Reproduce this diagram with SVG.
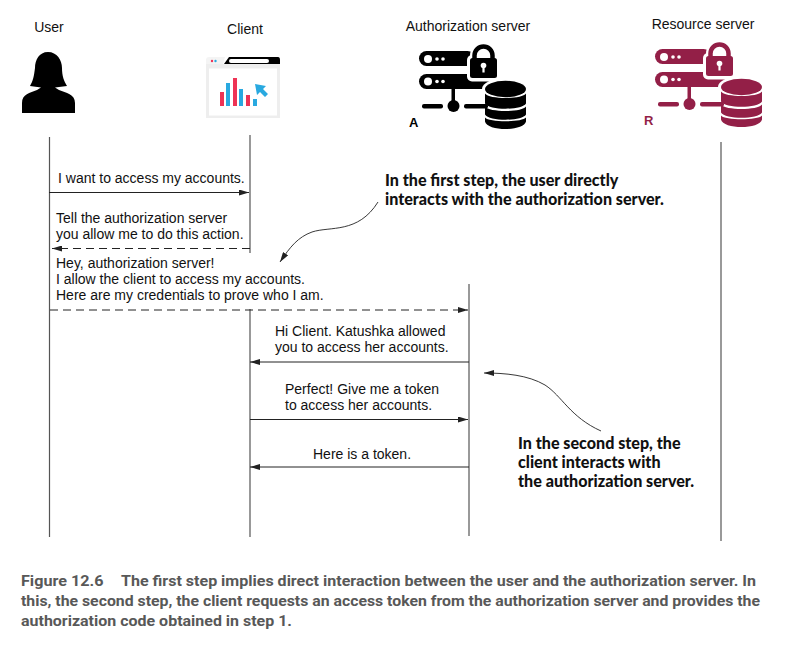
<svg xmlns="http://www.w3.org/2000/svg" width="791" height="645" viewBox="0 0 791 645">
<style>
text{font-family:"Liberation Sans",Arial,sans-serif;font-size:14px;fill:#111}
.note{font-family:Lato,"Noto Sans",sans-serif;font-weight:900;font-size:16.1px;fill:#111}
.cap{font-family:Roboto,"Liberation Sans",sans-serif;font-weight:700;font-size:14.5px;fill:#585858}
.ll{stroke:#555;stroke-width:1.2;fill:none}
.msg{stroke:#222;stroke-width:1;fill:none;marker-end:url(#ah)}
.dash{stroke-dasharray:8 5}
.curve{stroke:#222;stroke-width:.9;fill:none;marker-end:url(#ah)}
</style>
<defs>
<marker id="ah" markerUnits="userSpaceOnUse" markerWidth="11" markerHeight="6" refX="10" refY="3" orient="auto"><path d="M0 0L10 3L0 6z" fill="#222"/></marker>
<g id="srv">
<rect x="419" y="51" width="56" height="15" rx="7.500"/>
<rect x="419" y="74" width="70" height="15" rx="7.500"/>
<g fill="#fff"><circle cx="428" cy="59" r="4"/><circle cx="437" cy="59" r="1.800"/><circle cx="443" cy="59" r="1.800"/><circle cx="428" cy="81.500" r="4"/><circle cx="437" cy="81.500" r="1.800"/><circle cx="443" cy="81.500" r="1.800"/></g>
<rect x="451.500" y="89" width="3.500" height="17"/>
<circle cx="453.500" cy="106" r="6"/>
<rect x="422" y="104" width="21" height="4.500" rx="2"/>
<rect x="464" y="104" width="24" height="4.500" rx="2"/>
<rect x="467" y="55" width="33" height="26.500" rx="5" fill="#fff"/>
<path d="M474.500 60V55.500a9 9 0 0 1 18 0V60" fill="none" stroke="#fff" stroke-width="9"/>
<path d="M474.500 60V55.500a9 9 0 0 1 18 0V60" fill="none" stroke="currentColor" stroke-width="4.500"/>
<rect x="470" y="58" width="27" height="20" rx="2.500"/>
<circle cx="483.500" cy="65.500" r="2.800" fill="#fff"/><rect x="482.400" y="65.500" width="2.200" height="7" fill="#fff"/>
<ellipse cx="505.500" cy="89" rx="23.500" ry="11" fill="#fff"/>
<ellipse cx="505.500" cy="89" rx="20.500" ry="8.300"/>
<path d="M485 93.500c4 6 37 6 41 0v10c-4 7-37 7-41 0z"/>
<path d="M485 106.500c4 6 37 6 41 0v8c-4 7-37 7-41 0z"/>
<path d="M485 117.500c4 5 37 5 41 0v4c-2 10-39 10-41 0z"/>
</g>
</defs>
<rect width="791" height="645" fill="#fff"/>
<g id="connectors">
<path class="ll" d="M49.500 137V537"/>
<path class="ll" d="M250 135V253M250 309V537"/>
<path class="ll" d="M469 284V536"/>
<path class="ll" d="M721 142V541"/>
<path class="msg" d="M49 192.500H249"/>
<path class="msg dash" d="M250 248.500H52"/>
<path class="msg dash" d="M50 310H468"/>
<path class="msg" d="M469 362H250"/>
<path class="msg" d="M250 419.500H468"/>
<path class="msg" d="M469 467H250"/>
<path class="curve" d="M378 202C358 234 330 226 312 232C298 237 290 247 280 262"/>
<path class="curve" d="M601 431C570 417 562 396 545 385C528 375 505 373 484 373"/>
</g>
<g id="user"><text x="49" y="32" text-anchor="middle">User</text>
<path d="M48 52C39 52 35 60 35 68C34 76 33 81 30 86L41 87.500L37 90C30 93 22 94 22 103V113H75V103C75 94 66 93 59 90L55 87.500L67 86C64 81 62 76 62 68C62 60 57 52 48 52Z"/></g>
<g id="client"><text x="245" y="34" text-anchor="middle">Client</text>
<rect x="206" y="64" width="74" height="54" fill="#eee"/>
<rect x="209" y="68.500" width="68" height="47" fill="#fff"/>
<path d="M206 64V60Q206 57 209 57H225L223 64Z" fill="#f4f4f4"/>
<path d="M224 64L229 57H278Q280 57 280 60V64Z"/>
<rect x="229" y="59" width="40" height="4" rx="2" fill="#fff"/>
<circle cx="212" cy="61" r="1.200" fill="#ee3355"/><circle cx="215.500" cy="61" r="1.200" fill="#29a9e0"/>
<g fill="#ee3355"><rect x="220" y="92" width="4" height="14"/><rect x="233" y="78" width="4" height="28"/><rect x="246" y="95" width="4" height="11"/></g>
<g fill="#29a9e0"><rect x="226" y="83" width="4" height="23"/><rect x="239" y="89" width="4" height="17"/><rect x="253" y="99" width="4" height="7"/>
<path d="M255 84L266 86L263 89L268 94L265 97L260 92L257 95Z"/></g></g>
<g id="authorization-server" color="#000"><text x="468" y="31" text-anchor="middle">Authorization server</text>
<use href="#srv" fill="#000"/>
<text x="409" y="127" style="font-weight:700;font-size:13px;fill:#000">A</text></g>
<g id="resource-server" color="#931f47"><text x="703" y="29" text-anchor="middle">Resource server</text>
<use href="#srv" x="236" y="-2" fill="#931f47"/>
<text x="644" y="125" style="font-weight:700;font-size:13px;fill:#931f47">R</text></g>
<g id="messages">
<text x="58" y="183">I want to access my accounts.</text>
<text x="56" y="223">Tell the authorization server</text>
<text x="56" y="239">you allow me to do this action.</text>
<text x="56" y="268">Hey, authorization server!</text>
<text x="56" y="284">I allow the client to access my accounts.</text>
<text x="56" y="300">Here are my credentials to prove who I am.</text>
<text x="275" y="336">Hi Client. Katushka allowed</text>
<text x="275" y="352">you to access her accounts.</text>
<text x="285" y="394">Perfect! Give me a token</text>
<text x="285" y="410">to access her accounts.</text>
<text x="313" y="459">Here is a token.</text>
</g>
<g id="annotations">
<text class="note" x="385" y="186">In the first step, the user directly</text>
<text class="note" x="385" y="205">interacts with the authorization server.</text>
<text class="note" x="518" y="449">In the second step, the</text>
<text class="note" x="518" y="468">client interacts with</text>
<text class="note" x="518" y="487">the authorization server.</text>
</g>
<g id="caption">
<text class="cap" x="21" y="585.500" textLength="82.500" lengthAdjust="spacingAndGlyphs">Figure 12.6</text>
<text class="cap" x="121" y="585.500" textLength="635" lengthAdjust="spacingAndGlyphs">The first step implies direct interaction between the user and the authorization server. In</text>
<text class="cap" x="21" y="605.500" textLength="739" lengthAdjust="spacingAndGlyphs">this, the second step, the client requests an access token from the authorization server and provides the</text>
<text class="cap" x="21" y="625.500" textLength="271" lengthAdjust="spacingAndGlyphs">authorization code obtained in step 1.</text>
</g>
</svg>
